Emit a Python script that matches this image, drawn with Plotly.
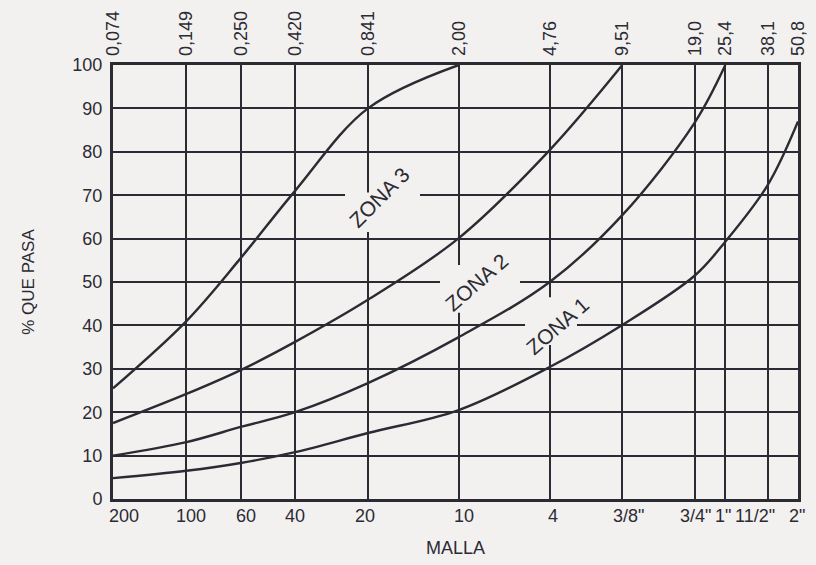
import math
import plotly.graph_objects as go

# ---------------- data ----------------
sieve_mm = [0.074, 0.149, 0.250, 0.420, 0.841, 2.00, 4.76, 9.51, 19.0, 25.4, 38.1, 50.8]
sieve_mm_labels = ["0,074", "0,149", "0,250", "0,420", "0,841", "2,00", "4,76",
                   "9,51", "19,0", "25,4", "38,1", "50,8"]
malla_labels = ["200", "100", "60", "40", "20", "10", "4",
                '3/8"', '3/4"', '1"', '11/2"', '2"']
pct_ticks = list(range(0, 101, 10))

# curve 1: upper limit of zona 3
curve1_mm = [0.074, 0.149, 0.250, 0.420, 0.841, 2.00]
curve1_pct = [25.5, 41, 55.5, 71, 90, 100]
# curve 2: lower limit zona 3 / upper limit zona 2
curve2_mm = [0.074, 0.149, 0.250, 0.420, 0.841, 2.00, 4.76, 9.51]
curve2_pct = [17.5, 24.2, 29.7, 36.2, 45.9, 60.1, 80.4, 100]
# curve 3: lower limit zona 2 / upper limit zona 1
curve3_mm = [0.074, 0.149, 0.250, 0.420, 0.841, 2.00, 4.76, 9.51, 19.0, 25.4]
curve3_pct = [10, 13.1, 16.6, 20, 26.7, 37.3, 50, 65.4, 86.8, 100]
# curve 4: lower limit zona 1
curve4_mm = [0.074, 0.149, 0.250, 0.420, 0.841, 2.00, 4.76, 9.51, 19.0, 25.4, 38.1, 50.8]
curve4_pct = [4.8, 6.5, 8.3, 10.8, 15.2, 20.5, 30.4, 40.1, 51.5, 59.3, 72.4, 87]

zone_names = ["ZONA 3", "ZONA 2", "ZONA 1"]

# ---------------- style ----------------
PAPER = "#f3f1f0"
INK = "#2b2b33"
FONT = "Liberation Sans, Arial, sans-serif"
# small horizontal nudges (px) of the bottom mesh labels, as printed
malla_xshift = [11, 5, 5, 0, -3, 5, 3, 6, 1, -2, -13, -1]

fig = go.Figure()
for xs, ys in [(curve1_mm, curve1_pct), (curve2_mm, curve2_pct),
               (curve3_mm, curve3_pct), (curve4_mm, curve4_pct)]:
    fig.add_trace(go.Scatter(x=xs, y=ys, mode="lines",
                             line=dict(color=INK, width=2.4, shape="spline", smoothing=1.0),
                             showlegend=False, hoverinfo="skip"))

# invisible trace to carry the top axis
fig.add_trace(go.Scatter(x=[sieve_mm[0], sieve_mm[-1]], y=[0, 0], xaxis="x2",
                         mode="markers", marker=dict(opacity=0), showlegend=False,
                         hoverinfo="skip"))

xr = [math.log10(sieve_mm[0]), math.log10(sieve_mm[-1])]

# blank gaps in the grid behind the zone labels (axis-aligned)
gaps = [
    (0.676, 1.382, 61.5, 70.6),
    (1.673, 3.587, 42.9, 53.9),
    (3.762, 6.175, 35.5, 46.5),
]
shapes = [dict(type="rect", xref="x", yref="y", x0=a, x1=b, y0=c, y1=d,
               fillcolor=PAPER, line=dict(width=0), layer="between")
          for a, b, c, d in gaps]

label_pos = [(0.935, 69.5, -45), (2.36, 50, -41), (5.15, 40, -41)]
annotations = [dict(x=math.log10(x), y=y, xref="x", yref="y", text=t, showarrow=False,
                    textangle=ang, font=dict(family=FONT, size=21, color=INK))
               for t, (x, y, ang) in zip(zone_names, label_pos)]

# bottom mesh labels, placed at the sieve sizes on the log axis
for mm, lab, sh in zip(sieve_mm, malla_labels, malla_xshift):
    annotations.append(dict(x=math.log10(mm), y=0, xref="x", yref="paper",
                            text=lab, showarrow=False, xanchor="center",
                            yanchor="top", xshift=sh, yshift=-5,
                            font=dict(family=FONT, size=18, color=INK)))

fig.update_layout(
    width=816, height=565,
    margin=dict(l=113, r=18, t=65, b=66, autoexpand=False),
    paper_bgcolor=PAPER, plot_bgcolor=PAPER,
    font=dict(family=FONT, size=18, color=INK),
    shapes=shapes,
    annotations=annotations,
    xaxis=dict(type="log", range=xr, tickmode="array", tickvals=sieve_mm,
               showticklabels=False, ticks="", automargin=False,
               showgrid=True, gridcolor=INK, gridwidth=2.3,
               showline=True, linecolor=INK, linewidth=3, mirror=True,
               zeroline=False,
               title=dict(text="MALLA", font=dict(size=18), standoff=41)),
    xaxis2=dict(type="log", range=xr, overlaying="x", side="top", anchor="y",
                tickmode="array", tickvals=sieve_mm, ticktext=sieve_mm_labels,
                tickangle=-90, ticks="", showgrid=False, zeroline=False,
                showline=False, tickfont=dict(size=18), ticklabelstandoff=8,
                automargin=False),
    yaxis=dict(range=[0, 100], tickmode="array", tickvals=pct_ticks, ticks="",
               showgrid=True, gridcolor=INK, gridwidth=2.3, zeroline=False,
               showline=True, linecolor=INK, linewidth=3, mirror=True,
               tickfont=dict(size=18), ticklabelstandoff=4, automargin=False,
               title=dict(text="% QUE PASA", font=dict(size=17), standoff=34)),
)

fig.write_html("out.html", config={"displayModeBar": False},
               post_script="document.body.style.margin='0';")
